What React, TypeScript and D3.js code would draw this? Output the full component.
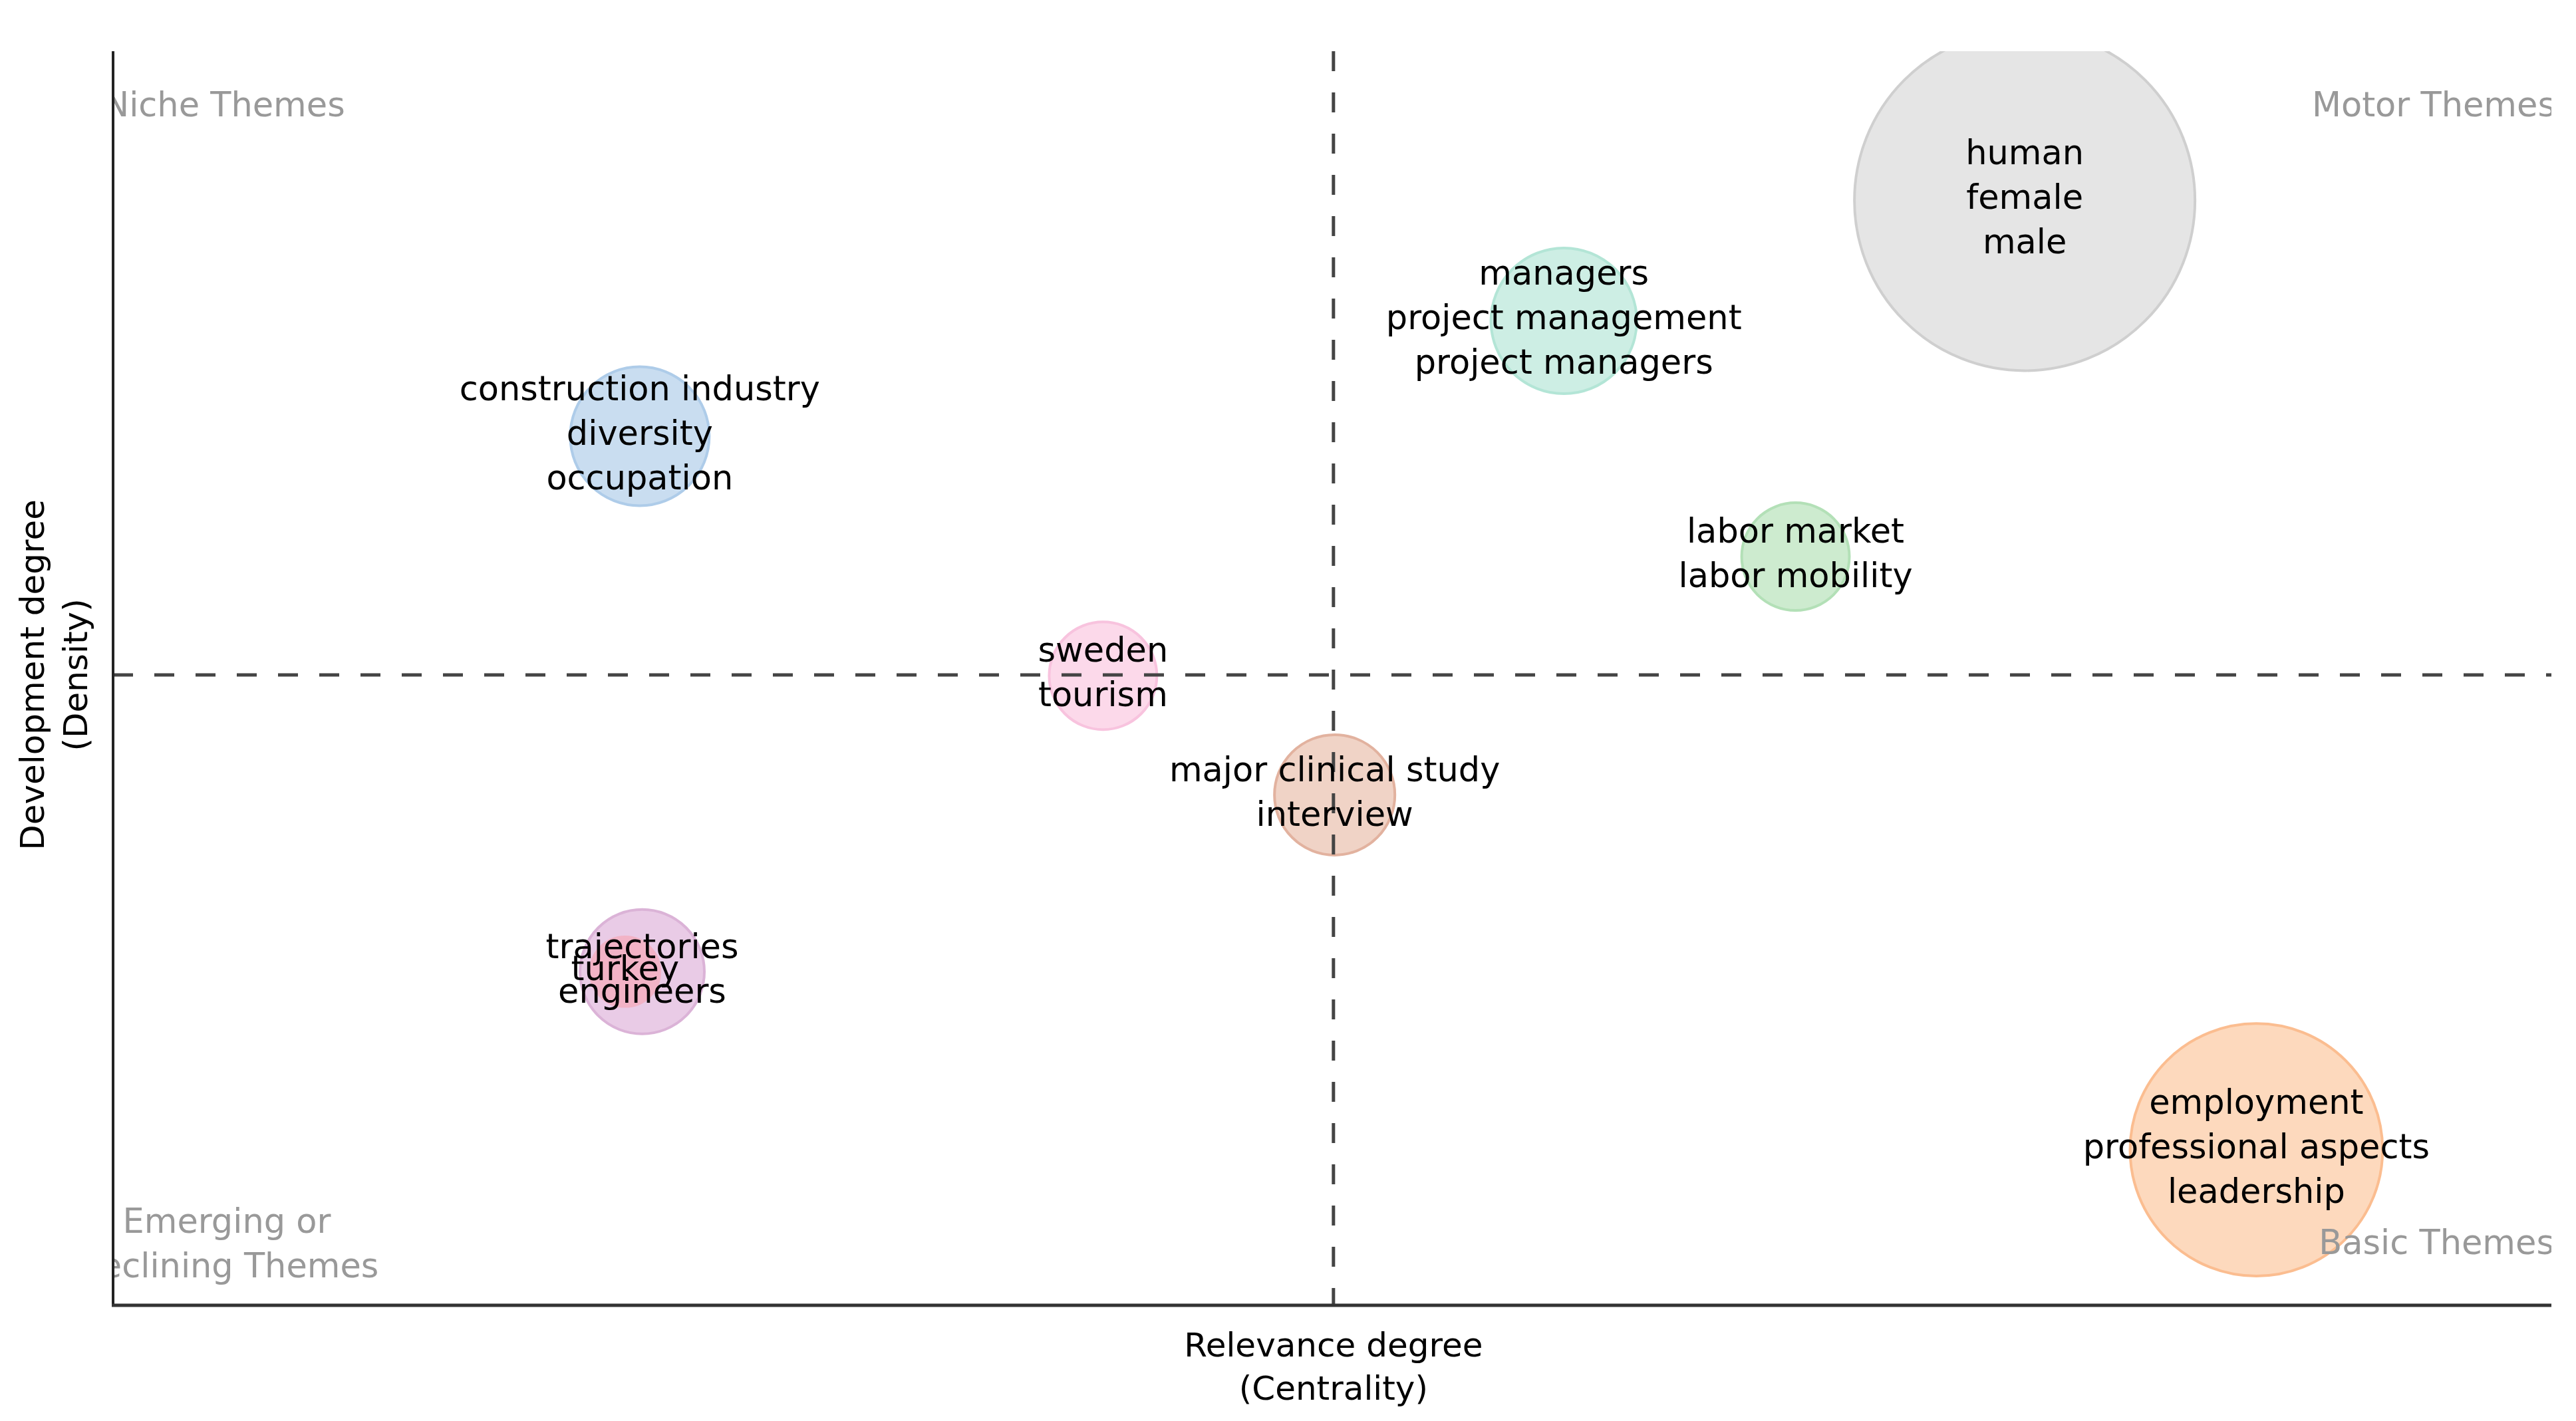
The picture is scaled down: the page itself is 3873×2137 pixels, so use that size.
import React, { useEffect, useRef } from 'react';
import * as d3 from 'd3';

// theme clusters: labels, centrality (x), density (y), frequency (bubble size)
const themeLabels: string[][] = [
  ['human', 'female', 'male'],
  ['managers', 'project management', 'project managers'],
  ['construction industry', 'diversity', 'occupation'],
  ['labor market', 'labor mobility'],
  ['sweden', 'tourism'],
  ['major clinical study', 'interview'],
  ['trajectories', 'engineers'],
  ['turkey'],
  ['employment', 'professional aspects', 'leadership'],
];
const centrality = [0.784, 0.595, 0.216, 0.69, 0.406, 0.501, 0.217, 0.21, 0.879];
const density = [0.881, 0.785, 0.693, 0.597, 0.502, 0.407, 0.266, 0.266, 0.124];
const frequency = [120, 22, 20, 12, 12, 15, 16, 5, 66];
const fills = ['#e5e5e5', '#cdeee4', '#c9ddf0', '#cdebcf', '#fcd9ea', '#f0d3c6', '#e9cbe6', '#f2b3c6', '#fdd9bd'];
const strokes = ['#cfcfcf', '#b3e5d6', '#aecce9', '#b3e0b7', '#f8c3de', '#e2b29f', '#dbb3d7', '#f2b3c6', '#fbbd90'];

const meanCentrality = 0.5005;
const meanDensity = 0.5027;

const quadrantNames = ['Niche Themes', 'Motor Themes', 'Emerging or\nDeclining Themes', 'Basic Themes'];

const W = 3873;
const H = 2137;
const FONT = '"DejaVu Sans", Verdana, sans-serif';

const App: React.FC = () => {
  const svgRef = useRef<SVGSVGElement>(null);

  useEffect(() => {
    if (!svgRef.current) return;
    const svg = d3.select(svgRef.current);
    svg.selectAll('*').remove();

    const margin = { top: 77, right: 37, bottom: 174, left: 170 };
    const x = d3.scaleLinear().domain([0, 1]).range([margin.left, W - margin.right]);
    const y = d3.scaleLinear().domain([0, 1]).range([H - margin.bottom, margin.top]);
    const r = d3.scaleSqrt().domain([0, 120]).range([0, 256]);

    svg.append('defs').append('clipPath').attr('id', 'plot-clip')
      .append('rect')
      .attr('x', x(0)).attr('y', y(1))
      .attr('width', x(1) - x(0)).attr('height', y(0) - y(1));

    const plot = svg.append('g').attr('clip-path', 'url(#plot-clip)');

    // bubbles
    const themes = themeLabels.map((labels, i) => ({
      labels,
      cx: centrality[i],
      cy: density[i],
      freq: frequency[i],
      fill: fills[i],
      stroke: strokes[i],
    }));

    plot.selectAll('.bubble')
      .data(themes)
      .enter()
      .append('circle')
      .attr('class', 'bubble')
      .attr('cx', d => x(d.cx))
      .attr('cy', d => y(d.cy))
      .attr('r', d => r(d.freq))
      .attr('fill', d => d.fill)
      .attr('stroke', d => d.stroke)
      .attr('stroke-width', 4);

    // quadrant labels (clipped by the plot area like the original)
    const gray = '#999999';
    const qLabel = () => plot.append('text')
      .attr('fill', gray).style('font-size', '51px').style('font-family', FONT);
    qLabel().attr('x', 156).attr('y', 175).text(quadrantNames[0]);
    qLabel().attr('x', x(1) + 6).attr('y', 175).attr('text-anchor', 'end').text(quadrantNames[1]);
    qLabel().attr('x', x(1) + 4).attr('y', 1886).attr('text-anchor', 'end').text(quadrantNames[3]);
    const emerging = qLabel().attr('text-anchor', 'middle');
    quadrantNames[2].split('\n').forEach((line, i) => {
      emerging.append('tspan').attr('x', 341).attr('y', 1854 + i * 67).text(line);
    });

    // mean lines
    svg.append('line')
      .attr('x1', x(meanCentrality)).attr('x2', x(meanCentrality))
      .attr('y1', y(1)).attr('y2', y(0))
      .attr('stroke', '#444').attr('stroke-width', 5).attr('stroke-dasharray', '30,32');
    svg.append('line')
      .attr('x1', x(0)).attr('x2', x(1))
      .attr('y1', y(meanDensity)).attr('y2', y(meanDensity))
      .attr('stroke', '#444').attr('stroke-width', 5).attr('stroke-dasharray', '30,32');

    // axes
    svg.append('line')
      .attr('x1', x(0)).attr('x2', x(0)).attr('y1', y(1)).attr('y2', y(0) + 2)
      .attr('stroke', '#222').attr('stroke-width', 4);
    svg.append('line')
      .attr('x1', x(0) - 2).attr('x2', x(1)).attr('y1', y(0)).attr('y2', y(0))
      .attr('stroke', '#333').attr('stroke-width', 5);

    // bubble labels
    const lineGap = 67;
    themes.forEach(d => {
      const t = svg.append('text')
        .attr('text-anchor', 'middle')
        .attr('fill', '#000')
        .style('font-size', '51px')
        .style('font-family', FONT);
      const n = d.labels.length;
      d.labels.forEach((line, i) => {
        t.append('tspan')
          .attr('x', x(d.cx))
          .attr('y', y(d.cy) + (i - (n - 1) / 2) * lineGap)
          .attr('dy', '0.25em')
          .text(line);
      });
    });

    // axis titles
    const xTitle = svg.append('text').attr('text-anchor', 'middle')
      .style('font-size', '50px').style('font-family', FONT).attr('fill', '#000');
    ['Relevance degree', '(Centrality)'].forEach((line, i) => {
      xTitle.append('tspan').attr('x', x(meanCentrality)).attr('y', 2040 + i * 65).text(line);
    });
    const yTitle = svg.append('text').attr('text-anchor', 'middle')
      .attr('transform', `translate(0,${y(meanDensity)}) rotate(-90)`)
      .style('font-size', '50px').style('font-family', FONT).attr('fill', '#000');
    ['Development degree', '(Density)'].forEach((line, i) => {
      yTitle.append('tspan').attr('x', 0).attr('y', 66 + i * 65).text(line);
    });
  }, []);

  return (
    <div style={{ position: 'absolute', left: 0, top: 0, background: '#fff' }}>
      <svg ref={svgRef} width={W} height={H} style={{ display: 'block' }} />
    </div>
  );
};

export default App;
